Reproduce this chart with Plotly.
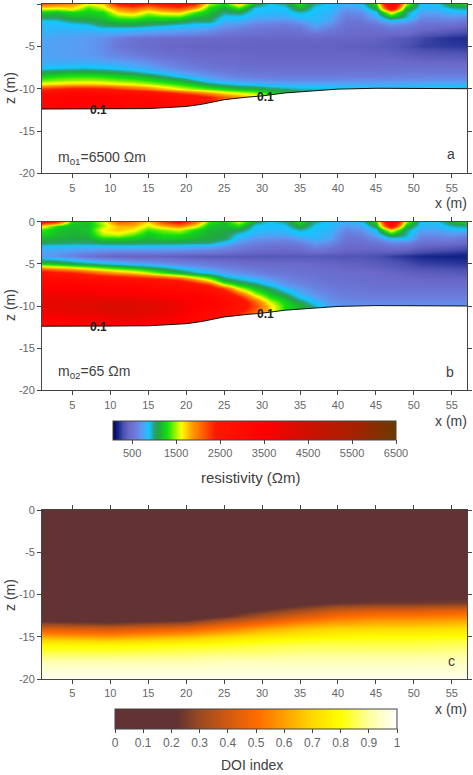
import numpy as np
import plotly.graph_objects as go

W, H = 473, 775

# Shared resistivity grid: profile positions (m) and depth levels (m)
x_res = list(range(1, 58, 2))
z_res = [0, -0.5, -1, -1.5, -2, -2.5, -3, -3.5, -4, -5, -6, -7, -7.5, -8, -8.5, -9, -9.5, -10, -10.5, -11, -12, -13]

# Resistivity (ohm m), one column per profile position, m01 = 6500 starting model
res_a_columns = [
    [2100,1650,1250,1050,880,840,840,800,770,755,755,790,880,1050,1250,1400,1650,2300,3000,3300,3300,3300],
    [2000,1600,1200,1050,900,840,820,780,750,745,745,790,900,1100,1300,1450,1700,2400,3100,3300,3400,3400],
    [1900,1700,1300,1150,1000,860,820,770,740,735,735,790,920,1130,1320,1480,1750,2500,3200,3400,3400,3400],
    [1600,1350,1250,1150,1050,900,830,760,720,715,725,800,930,1130,1330,1500,1750,2500,3200,3400,3400,3400],
    [1700,1550,1300,1200,1120,1020,860,760,680,650,680,790,900,1100,1300,1470,1720,2450,3100,3400,3400,3400],
    [2400,1950,1700,1400,1200,1050,860,740,580,540,630,770,860,1050,1250,1420,1650,2300,3000,3300,3400,3400],
    [2600,2100,1800,1450,1200,1050,840,720,500,480,590,740,820,980,1200,1380,1600,2150,2900,3300,3300,3300],
    [2300,1900,1550,1300,1150,1000,820,680,480,450,530,690,770,900,1120,1300,1520,2000,2800,3200,3300,3300],
    [2500,2100,1700,1350,1150,950,800,660,460,430,490,620,710,820,1000,1220,1420,1800,2600,3100,3200,3200],
    [2600,2200,1750,1350,1100,900,780,640,450,420,470,560,640,740,880,1120,1320,1620,2300,2900,3000,3000],
    [2400,1900,1400,1150,1000,860,760,620,440,410,450,520,580,680,780,950,1200,1500,2100,2700,2800,2800],
    [1500,1300,1200,1100,1020,840,720,580,430,410,440,490,540,620,710,800,1050,1400,1900,2400,2500,2500],
    [1250,1100,1000,870,800,720,620,530,430,410,430,470,510,570,650,750,950,1300,1700,2100,2200,2200],
    [1700,1350,1050,880,800,680,580,500,430,410,430,460,490,540,610,710,880,1200,1600,1900,1900,1900],
    [1100,880,850,800,700,600,530,480,420,410,420,450,480,520,580,680,850,1150,1500,1700,1700,1700],
    [880,860,840,780,680,580,520,470,420,400,420,450,480,520,570,660,800,1050,1300,1400,1400,1400],
    [980,880,840,780,660,560,510,460,420,400,420,450,480,520,570,650,790,1000,1200,1200,1200,1200],
    [1300,1150,950,850,740,610,530,470,420,400,420,450,480,520,570,650,780,950,1100,1100,1100,1100],
    [970,880,860,840,820,760,680,510,430,400,420,450,480,520,570,650,780,950,1050,1050,1050,1050],
    [860,850,820,790,750,660,560,480,420,400,420,450,480,520,570,650,780,930,1000,1000,1000,1000],
    [800,730,640,560,520,490,470,450,420,390,420,450,480,520,580,660,780,920,1000,1000,1000,1000],
    [860,770,680,600,530,490,460,440,410,380,420,450,480,520,580,660,780,920,1000,1000,1000,1000],
    [1300,1100,890,780,640,530,470,440,400,370,410,450,480,520,580,660,780,910,1000,1000,1000,1000],
    [3300,2800,1700,1150,830,640,520,440,370,350,400,460,490,530,590,670,780,900,1000,1000,1000,1000],
    [1500,1200,1000,950,760,600,500,430,340,310,380,450,490,540,600,680,790,900,1000,1000,1000,1000],
    [860,830,760,660,570,490,430,360,280,260,360,440,490,540,600,680,790,900,1000,1000,1000,1000],
    [860,820,760,660,570,480,410,320,240,250,350,440,490,550,610,690,800,920,1000,1000,1000,1000],
    [1150,950,830,700,580,470,390,290,210,240,350,440,490,550,610,690,800,950,1050,1050,1050,1050],
    [1250,1000,840,640,510,430,350,260,200,230,340,430,490,550,610,690,800,1000,1100,1100,1100,1100],
]

# Resistivity (ohm m), one column per profile position, m02 = 65 starting model
res_b_columns = [
    [2600,1700,1350,1250,1150,1050,820,760,720,1250,2700,3200,3300,3500,3700,3900,4000,4000,3900,3700,3300,3300],
    [2300,1300,1200,1180,1120,1020,840,740,680,1200,2500,3200,3300,3500,3700,3900,4000,4000,3900,3700,3300,3300],
    [1250,1180,1150,1130,1100,1000,820,700,600,1100,2400,3200,3300,3500,3700,3900,4000,4100,4000,3800,3300,3300],
    [1200,1180,1200,1150,1100,1000,820,670,500,1020,2200,3100,3300,3500,3700,3900,4100,4100,4000,3800,3300,3300],
    [1550,1500,1650,1500,1250,1050,800,640,430,950,2000,3100,3200,3400,3600,3900,4100,4200,4100,3900,3400,3300],
    [2100,1800,1750,1550,1250,1050,820,620,400,880,1850,3000,3200,3400,3600,3900,4100,4200,4200,4000,3700,3300],
    [2000,1800,1650,1400,1200,1050,820,620,400,800,1750,2900,3200,3400,3600,3900,4100,4200,4200,4000,3700,3300],
    [1700,1550,1350,1200,1150,1030,820,620,400,750,1550,2800,3100,3300,3500,3800,4000,4100,4100,3900,3600,3300],
    [2200,1800,1450,1300,1200,1030,810,620,390,700,1350,2700,3000,3200,3400,3700,3900,4000,4000,3800,3500,3300],
    [2500,2000,1550,1300,1200,1020,800,600,370,640,1150,2500,2900,3100,3300,3500,3700,3800,3800,3600,3300,3300],
    [2100,1700,1300,1200,1150,1000,770,580,360,600,980,2100,2700,3100,3300,3500,3600,3500,3400,3300,3200,3200],
    [1350,1200,1150,1130,1100,1000,740,560,350,560,880,1700,2300,2800,3100,3300,3400,3300,3200,3100,3000,3000],
    [1200,1150,1120,1080,1050,840,680,520,350,520,750,1150,1600,2300,2700,3000,3100,3100,3000,2900,2800,2800],
    [1550,1300,1050,880,800,700,580,460,350,480,680,1000,1250,1600,2100,2500,2700,2700,2500,2300,2200,2200],
    [1050,880,850,790,700,600,510,430,350,460,620,880,1050,1250,1500,1800,2100,2200,2100,1900,1800,1800],
    [880,860,830,770,670,570,490,420,350,450,560,760,880,1050,1200,1350,1550,1700,1700,1600,1500,1500],
    [980,880,840,770,650,550,480,410,350,450,530,650,720,850,1000,1150,1250,1300,1300,1300,1300,1300],
    [1300,1150,950,850,730,600,510,430,350,440,510,590,640,720,800,900,1050,1150,1150,1150,1150,1150],
    [970,880,860,840,810,730,620,470,350,430,490,540,580,630,690,760,850,950,950,950,950,950],
    [860,850,820,790,750,650,540,440,340,420,470,510,530,570,610,650,700,750,750,750,750,750],
    [800,730,640,560,520,490,450,400,330,400,460,490,510,540,570,610,650,700,700,700,700,700],
    [860,770,680,600,530,490,440,390,330,390,450,480,500,530,560,600,640,680,680,680,680,680],
    [1300,1100,890,770,630,520,450,380,310,370,440,470,490,520,550,590,640,680,680,680,680,680],
    [3300,2800,1700,1150,830,630,500,380,260,340,420,460,480,510,550,590,640,680,680,680,680,680],
    [1500,1200,1000,950,880,600,480,350,220,300,400,450,480,510,550,590,640,680,680,680,680,680],
    [860,830,760,660,570,490,400,300,190,260,380,440,470,510,550,590,640,680,680,680,680,680],
    [860,820,760,660,570,480,380,270,180,250,370,440,470,510,550,590,640,680,680,680,680,680],
    [1150,950,830,700,580,470,360,250,170,240,360,440,470,510,550,590,640,680,680,680,680,680],
    [1250,1000,840,640,510,430,330,230,170,230,350,440,470,510,550,590,640,680,680,680,680,680],
]

# Depth of investigation limit (DOI index = 0.1) shared by the resistivity sections
doi_x = [1, 5, 10, 15, 18, 20, 22, 25, 28, 30, 33, 36, 40, 45, 50, 55, 57]
doi_z = [-12.4, -12.4, -12.4, -12.35, -12.2, -12.1, -11.85, -11.3, -11.0, -10.85, -10.5, -10.3, -10.05, -9.95, -10, -10, -10]

# DOI index, one row per depth level
x_doi = [1, 10, 20, 25, 30, 35, 40, 45, 50, 57]
z_doi = [0, -5, -10, -11, -11.5, -12, -12.5, -13, -13.5, -14, -14.5, -15, -15.5, -16, -17, -18, -19, -20]
doi_rows = [
    [.01, .01, .01, .01, .01, .01, .01, .01, .01, .01],
    [.02, .02, .02, .02, .02, .02, .02, .02, .02, .02],
    [.03, .03, .03, .05, .07, .10, .15, .17, .17, .19],
    [.06, .05, .07, .11, .15, .19, .23, .25, .25, .26],
    [.08, .07, .09, .14, .18, .25, .32, .34, .34, .36],
    [.10, .09, .12, .17, .24, .33, .41, .44, .44, .46],
    [.13, .12, .15, .22, .33, .42, .49, .52, .52, .54],
    [.19, .17, .22, .33, .42, .50, .56, .59, .59, .61],
    [.30, .27, .33, .43, .50, .58, .62, .64, .64, .66],
    [.42, .39, .45, .52, .60, .66, .69, .70, .70, .72],
    [.53, .50, .56, .62, .68, .72, .75, .76, .76, .77],
    [.63, .60, .66, .71, .75, .77, .79, .80, .80, .81],
    [.72, .70, .74, .77, .80, .82, .83, .83, .83, .84],
    [.79, .78, .81, .82, .84, .85, .85, .85, .85, .86],
    [.86, .86, .87, .88, .88, .89, .89, .89, .89, .90],
    [.92, .92, .92, .93, .93, .93, .93, .93, .93, .93],
    [.96, .96, .96, .96, .96, .96, .96, .96, .96, .96],
    [.98, .98, .98, .98, .98, .98, .98, .98, .98, .98],
]

# Axis ticks
x_ticks = [5, 10, 15, 20, 25, 30, 35, 40, 45, 50, 55]
z_ticks = [0, -5, -10, -15, -20]
z_tick_labels = ["0", "-5", "-10", "-15", "-20"]
res_ticks = [500, 1500, 2500, 3500, 4500, 5500, 6500]
doi_ticks = [0, 0.1, 0.2, 0.3, 0.4, 0.5, 0.6, 0.7, 0.8, 0.9, 1]
doi_tick_labels = ["0", "0.1", "0.2", "0.3", "0.4", "0.5", "0.6", "0.7", "0.8", "0.9", "1"]

RES_MIN, RES_MAX = 65, 6500
res_stops = [
    (65, "#00004c"), (180, "#14248a"), (300, "#4a50b0"), (430, "#6a68c8"),
    (600, "#6a80e0"), (730, "#5a9cf4"), (888, "#10c8ff"), (1000, "#2d9f78"),
    (1100, "#20a840"), (1300, "#10e010"), (1450, "#80f000"), (1620, "#ffff00"),
    (1850, "#ffa000"), (2100, "#ff6000"), (2400, "#ff1800"), (3500, "#ff0000"),
    (4500, "#cc1000"), (5500, "#a82000"), (6500, "#6b3a00"),
]
res_scale = [[(v - RES_MIN) / (RES_MAX - RES_MIN), c] for v, c in res_stops]
doi_scale = [
    [0, "#633232"], [0.22, "#633232"], [0.3, "#9a4a20"], [0.4, "#d05a10"],
    [0.5, "#ff6a00"], [0.6, "#ffa000"], [0.7, "#ffd800"], [0.8, "#ffff00"],
    [0.9, "#ffffa0"], [1, "#ffffff"],
]

TICK_GREY = "#666666"
LABEL_GREY = "#404040"
FRAME = "#444444"
FONT = "Liberation Sans"


def px(x):
    return x / W


def py(y):
    return 1 - y / H


panels = [(4, 173.4), (221.7, 390.3), (510, 679)]
fig = go.Figure()

for i, (top, bottom) in enumerate(panels, start=1):
    common = dict(showgrid=False, zeroline=False, showline=True, linecolor=FRAME, linewidth=1,
                  mirror="allticks", ticks="outside", ticklen=4, tickcolor=FRAME, tickwidth=1,
                  tickfont=dict(family=FONT, size=11, color=TICK_GREY))
    fig.update_layout({
        f"xaxis{i}": dict(domain=[px(42), px(467)], range=[1, 57], tickvals=x_ticks, anchor=f"y{i}", **common),
        f"yaxis{i}": dict(domain=[py(bottom), py(top)], range=[-20, 0], tickvals=z_ticks,
                          ticktext=z_tick_labels, anchor=f"x{i}", **common),
    })

for i, columns in enumerate([res_a_columns, res_b_columns], start=1):
    fig.add_trace(go.Heatmap(x=x_res, y=z_res, z=np.array(columns).T, coloraxis="coloraxis",
                             zsmooth="best", xaxis=f"x{i}", yaxis=f"y{i}"))
    # Everything below the DOI limit is blanked out
    fig.add_trace(go.Scatter(x=doi_x + [57, 1], y=doi_z + [-20, -20], mode="none", fill="toself",
                             fillcolor="white", xaxis=f"x{i}", yaxis=f"y{i}", showlegend=False))
    fig.add_trace(go.Scatter(x=doi_x, y=doi_z, mode="lines", line=dict(color="#111111", width=1),
                             xaxis=f"x{i}", yaxis=f"y{i}", showlegend=False))

fig.add_trace(go.Heatmap(x=x_doi, y=z_doi, z=doi_rows, coloraxis="coloraxis2", zsmooth="best",
                         xaxis="x3", yaxis="y3"))

bar = dict(orientation="h", lenmode="pixels", thicknessmode="pixels", xanchor="center", yanchor="top",
           xpad=0, ypad=0, outlinecolor=FRAME, outlinewidth=1, ticks="outside", ticklen=4,
           tickcolor=FRAME)

fig.update_layout(
    width=W, height=H, autosize=False,
    margin=dict(l=0, r=0, t=0, b=0, autoexpand=False),
    paper_bgcolor="white", plot_bgcolor="white", showlegend=False,
    coloraxis=dict(colorscale=res_scale, cmin=RES_MIN, cmax=RES_MAX,
                   colorbar=dict(x=px(254.5), y=py(421), len=283, thickness=19, tickvals=res_ticks,
                                 tickfont=dict(family=FONT, size=11, color=TICK_GREY), **bar)),
    coloraxis2=dict(colorscale=doi_scale, cmin=0, cmax=1,
                    colorbar=dict(x=px(256), y=py(709), len=282, thickness=20,
                                  tickvals=doi_ticks, ticktext=doi_tick_labels,
                                  tickfont=dict(family=FONT, size=12, color=TICK_GREY), **bar)),
)


def label(text, x, y, size=12, color=LABEL_GREY, angle=0, anchor="center"):
    fig.add_annotation(text=text, x=px(x), y=py(y), xref="paper", yref="paper", showarrow=False,
                       xanchor=anchor, yanchor="middle", textangle=angle,
                       font=dict(family=FONT, size=size, color=color))


for y in (203, 421, 709):
    label("x (m)", 451, y, size=14)
for y in (88, 305, 595):
    label("z (m)", 10, y, size=14, angle=-90)

label("m<sub>01</sub>=6500 Ωm", 56, 158, size=14, anchor="left")
label("m<sub>02</sub>=65 Ωm", 56, 372, size=14, anchor="left")
label("a", 451, 154, size=14)
label("b", 450, 372, size=14)
label("c", 451, 661, size=14)
label("resistivity (Ωm)", 251, 477, size=15)
label("DOI index", 252, 765, size=14)

# DOI contour labels on both resistivity sections
for i in (1, 2):
    fig.add_annotation(text="<b>0.1</b>", x=8.4, y=-12.5, xref=f"x{i}", yref=f"y{i}", showarrow=False,
                       font=dict(family=FONT, size=12, color="#222222"))
    fig.add_annotation(text="<b>0.1</b>", x=30.4, y=-11.0, xref=f"x{i}", yref=f"y{i}", showarrow=False,
                       font=dict(family=FONT, size=12, color="#222222"))

fig.write_html("out.html")
